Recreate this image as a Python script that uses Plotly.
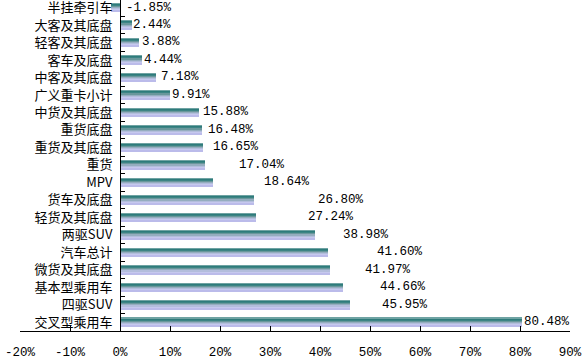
import plotly.graph_objects as go

# Categories listed top-to-bottom as in the reference
categories = ["半挂牵引车", "大客及其底盘", "轻客及其底盘", "客车及底盘", "中客及其底盘",
              "广义重卡小计", "中货及其底盘", "重货底盘", "重货及其底盘", "重货", "MPV",
              "货车及底盘", "轻货及其底盘", "两驱SUV", "汽车总计", "微货及其底盘",
              "基本型乘用车", "四驱SUV", "交叉型乘用车"]
values = [-1.85, 2.44, 3.88, 4.44, 7.18, 9.91, 15.88, 16.48, 16.65, 17.04, 18.64,
          26.80, 27.24, 38.98, 41.60, 41.97, 44.66, 45.95, 80.48]
value_labels = ["-1.85%", "2.44%", "3.88%", "4.44%", "7.18%", "9.91%", "15.88%", "16.48%",
                "16.65%", "17.04%", "18.64%", "26.80%", "27.24%", "38.98%", "41.60%",
                "41.97%", "44.66%", "45.95%", "80.48%"]
# where each value label starts (x, in percent), as placed in the reference
label_x = [1.0, 2.4, 4.1, 4.5, 8.0, 10.1, 16.3, 17.3, 18.3, 23.6, 28.6, 39.4, 37.4,
           44.3, 51.2, 48.8, 51.8, 52.2, 80.5]
x_ticks = [-20, -10, 0, 10, 20, 30, 40, 50, 60, 70, 80, 90]
x_tick_text = ["-20%", "-10%", "0%", "10%", "20%", "30%", "40%", "50%", "60%",
               "70%", "80%", "90%"]

# bottom-to-top order for the category axis
cats = categories[::-1]
vals = values[::-1]

# gradient stripes, top to bottom
stripe_colors = ["#6FA3A3", "#2E7B7B", "#3C8484", "#6A979C", "#95ADBF",
                 "#B3BDDC", "#C6C8EE", "#BBBBEA"]
bar_half = 0.25
stripe_w = 2 * bar_half / len(stripe_colors)

fig = go.Figure()
for i, col in enumerate(stripe_colors):
    fig.add_trace(go.Bar(
        x=vals, y=cats, orientation="h",
        offset=bar_half - (i + 1) * stripe_w, width=stripe_w,
        marker=dict(color=col, line=dict(width=0)),
        showlegend=False, hoverinfo="skip"))

num_font = dict(family="Liberation Mono, DejaVu Sans Mono, monospace", size=12.5, color="#000000")

for lx, cat, lab in zip(label_x, categories, value_labels):
    fig.add_annotation(x=lx, y=cat, text=lab, xanchor="left", yanchor="middle",
                       showarrow=False, font=num_font, borderpad=0)

W, H = 588, 364
ml, mr, mt, mb = 20, 18, 0, 33
xmin, xmax = -20, 90
fig.update_layout(
    width=W, height=H,
    margin=dict(l=ml, r=mr, t=mt, b=mb, autoexpand=False),
    barmode="overlay", bargap=0,
    plot_bgcolor="white", paper_bgcolor="white",
    xaxis=dict(range=[xmin, xmax], tickvals=x_ticks, ticktext=x_tick_text,
               showgrid=False, zeroline=False, showline=True, linecolor="black",
               linewidth=1, ticks="inside", ticklen=5, tickcolor="black",
               tickfont=num_font, ticklabelstandoff=9, automargin=False,
               fixedrange=True),
    yaxis=dict(type="category", categoryorder="array", categoryarray=cats,
               range=[-0.5, 18.43], autorange=False, anchor="free",
               position=(0 - xmin) / (xmax - xmin), automargin=False,
               showgrid=False, zeroline=False, showline=True, linecolor="black",
               linewidth=1, ticks="inside", ticklen=4, tickcolor="black",
               tickson="boundaries", ticklabelstandoff=5,
               tickfont=dict(family="Noto Sans CJK SC", size=13, color="#000000")),
)

fig.write_html("out.html", config={"displayModeBar": False},
               post_script="document.body.style.margin='0';document.body.style.overflow='hidden';")
